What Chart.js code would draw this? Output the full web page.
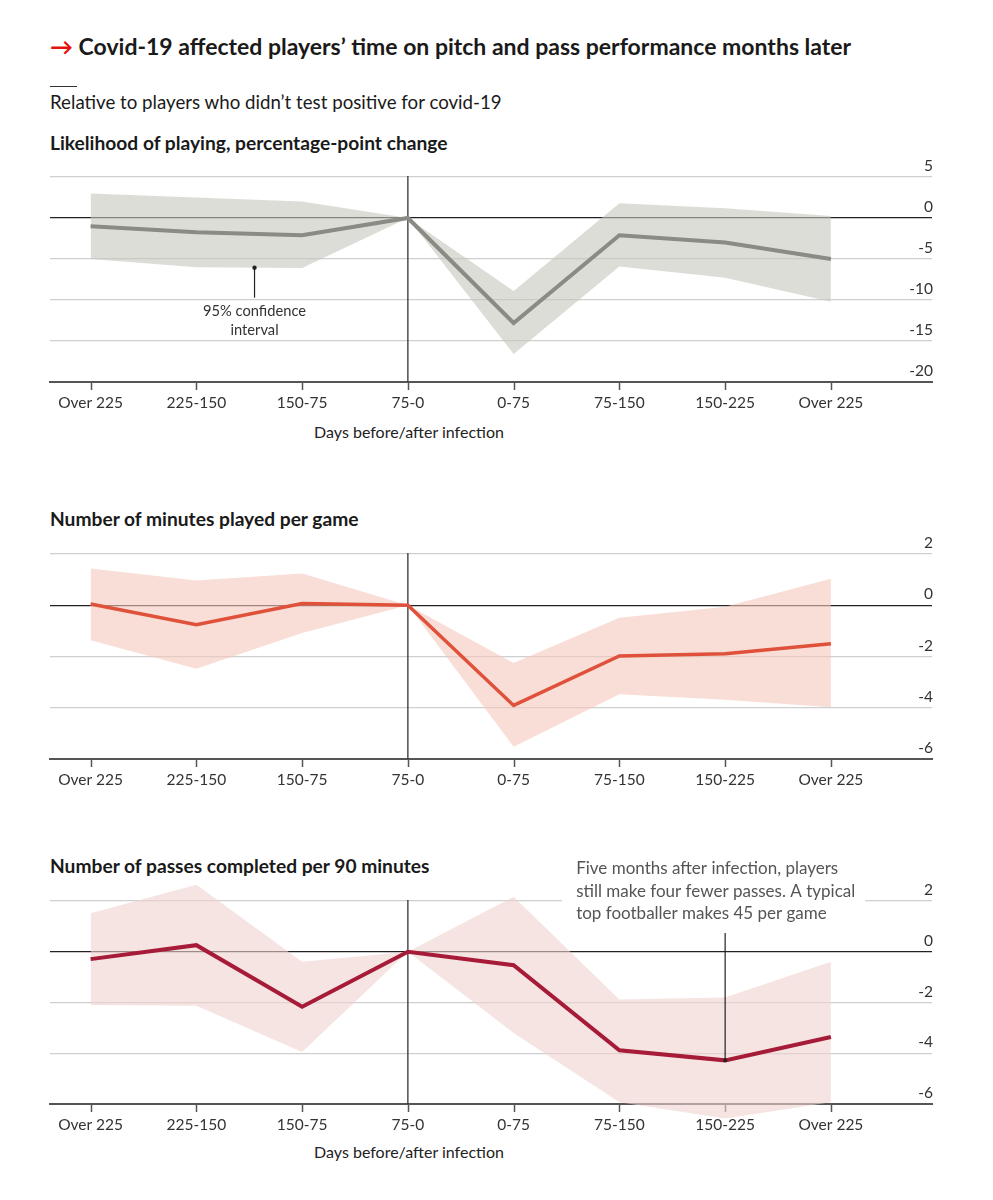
<!DOCTYPE html>
<html>
<head>
<meta charset="utf-8">
<script src="https://cdn.jsdelivr.net/npm/chart.js@4/dist/chart.umd.min.js"></script>
<style>
    body { margin: 0; background: #fff; font-family: Lato, "Noto Sans", sans-serif; color: #1a1a1a; }
    #page { position: relative; width: 993px; height: 1200px; overflow: hidden; }
    .txt { position: absolute; white-space: nowrap; }
    .title { left: 50px; top: 32px; font-size: 23px; font-weight: bold; }
    .title span { color: #e3120b; }
    .rule { position: absolute; left: 50px; top: 86px; width: 27px; height: 1px; background: #333; }
    .sub { left: 50px; top: 91px; font-size: 18.7px; }
    .head { left: 50px; font-size: 19.2px; font-weight: bold; }
    .xlab { font-size: 16px; color: #222; transform: translateX(-50%); }
    canvas { position: absolute; left: 0; }
</style>
</head>
<body>
<div id="page">
    <div class="txt title"><span>&#8594;</span> Covid-19 affected players&#8217; time on pitch and pass performance months later</div>
    <div class="rule"></div>
    <div class="txt sub">Relative to players who didn&#8217;t test positive for covid-19</div>
    <div class="txt head" style="top:131px">Likelihood of playing, percentage-point change</div>
    <div class="txt head" style="top:507px">Number of minutes played per game</div>
    <div class="txt head" style="top:854px">Number of passes completed per 90 minutes</div>
    <div class="txt xlab" style="left:409px;top:422px">Days before/after infection</div>
    <div class="txt xlab" style="left:409px;top:1142px">Days before/after infection</div>
    <canvas id="c1" style="top:150px"></canvas>
    <canvas id="c2" style="top:530px"></canvas>
    <canvas id="c3" style="top:850px"></canvas>
</div>
<script>
var categories = ['Over 225', '225-150', '150-75', '75-0', '0-75', '75-150', '150-225', 'Over 225'];

var playingLine = [-1.0, -1.75, -2.1, 0, -12.8, -2.1, -3.0, -5.0];
var playingUpper = [3.0, 2.5, 2.0, 0, -8.9, 1.8, 1.2, 0.25];
var playingLower = [-5.0, -6.0, -6.1, 0, -16.6, -5.9, -7.3, -10.2];
var playingTicks = [5, 0, -5, -10, -15, -20];

var minutesLine = [0.05, -0.76, 0.07, 0, -3.91, -1.98, -1.89, -1.5];
var minutesUpper = [1.43, 0.97, 1.24, 0, -2.25, -0.49, -0.06, 1.03];
var minutesLower = [-1.37, -2.48, -1.08, 0, -5.52, -3.47, -3.69, -3.98];
var minutesTicks = [2, 0, -2, -4, -6];

var passesLine = [-0.29, 0.26, -2.17, 0, -0.53, -3.88, -4.28, -3.36];
var passesUpper = [1.52, 2.64, -0.39, 0, 2.17, -1.88, -1.8, -0.39];
var passesLower = [-2.1, -2.13, -3.95, 0, -3.2, -5.93, -6.57, -5.93];
var passesTicks = [2, 0, -2, -4, -6];

var FONT = 'Lato, "Noto Sans", sans-serif';

function points(values) {
    return values.map(function (v, i) { return { x: i, y: v }; });
}

// vertical line at 75-0, tick marks under the axis, and room for the bands to spill over the plot edges
var axisPlugin = {
    id: 'axisMarks',
    beforeDatasetsDraw: function (chart) {
        var ctx = chart.ctx;
        var xs = chart.scales.x;
        var area = chart.chartArea;
        ctx.save();
        ctx.strokeStyle = '#333';
        ctx.lineWidth = 1.3;
        ctx.beginPath();
        ctx.moveTo(xs.getPixelForValue(3), area.top - 1);
        ctx.lineTo(xs.getPixelForValue(3), area.bottom);
        ctx.stroke();
        ctx.strokeStyle = '#555';
        ctx.lineWidth = 1.5;
        categories.forEach(function (c, i) {
            var x = Math.round(xs.getPixelForValue(i)) + 0.5;
            ctx.beginPath();
            ctx.moveTo(x, area.bottom);
            ctx.lineTo(x, area.bottom + 8);
            ctx.stroke();
        });
        ctx.restore();
        chart._savedArea = area;
        chart.chartArea = Object.assign({}, area, { top: area.top - 40, bottom: area.bottom + 40, height: area.height + 80 });
    },
    afterDatasetsDraw: function (chart) {
        if (chart._savedArea) chart.chartArea = chart._savedArea;
    }
};

function makeChart(id, height, padTop, line, upper, lower, ticks, lineColor, bandColor, lineWidth, extra) {
    var el = document.getElementById(id);
    el.width = 993;
    el.height = height;
    el.style.width = '993px';
    el.style.height = height + 'px';
    var ymin = ticks[ticks.length - 1], ymax = ticks[0];
    return new Chart(el, {
        type: 'line',
        data: {
            datasets: [
                { data: points(upper), borderWidth: 0, pointRadius: 0, backgroundColor: bandColor, fill: '+1', clip: false, order: 3 },
                { data: points(lower), borderWidth: 0, pointRadius: 0, backgroundColor: bandColor, fill: false, clip: false, order: 2 },
                { data: points(line), borderColor: lineColor, borderWidth: lineWidth, pointRadius: 0, fill: false, clip: false, order: 1, tension: 0 }
            ]
        },
        options: {
            responsive: false,
            animation: false,
            devicePixelRatio: 1,
            layout: { padding: { left: 50, right: 59, top: padTop, bottom: 0 } },
            plugins: { legend: { display: false }, tooltip: { enabled: false } },
            scales: {
                x: {
                    type: 'linear',
                    min: -0.384,
                    max: 7.956,
                    afterBuildTicks: function (scale) {
                        scale.ticks = categories.map(function (c, i) { return { value: i }; });
                    },
                    afterFit: function (scale) { scale.height = 40; },
                    grid: { display: false, drawTicks: false },
                    border: { display: true, color: '#555', width: 2 },
                    ticks: {
                        autoSkip: false,
                        maxRotation: 0,
                        padding: 12,
                        color: '#333',
                        font: { family: FONT, size: 15.5 },
                        callback: function (v) { return categories[v]; }
                    }
                },
                y: {
                    position: 'right',
                    min: ymin,
                    max: ymax,
                    afterBuildTicks: function (scale) {
                        scale.ticks = ticks.map(function (t) { return { value: t }; });
                    },
                    grid: {
                        drawTicks: false,
                        color: function (c) { return c.tick.value === 0 ? '#222' : (c.tick.value === ymin ? '#555' : '#cfcfcf'); },
                        lineWidth: function (c) { return c.tick.value === 0 ? 1.2 : (c.tick.value === ymin ? 2 : 1.3); }
                    },
                    border: { display: false },
                    ticks: {
                        mirror: true,
                        padding: 1,
                        labelOffset: -11,
                        color: '#333',
                        font: { family: FONT, size: 15.5 },
                        callback: function (v) { return String(v); }
                    }
                }
            }
        },
        plugins: [axisPlugin].concat(extra ? [extra] : [])
    });
}

var confidenceNote = {
    id: 'confidenceNote',
    afterDatasetsDraw: function (chart) {
        var ctx = chart.ctx;
        var pos = 1.55;
        var yv = playingLower[1] + (playingLower[2] - playingLower[1]) * (pos - 1);
        var x = chart.scales.x.getPixelForValue(pos);
        var y = chart.scales.y.getPixelForValue(yv);
        ctx.save();
        ctx.strokeStyle = '#222';
        ctx.fillStyle = '#222';
        ctx.lineWidth = 1.2;
        ctx.beginPath();
        ctx.arc(x, y, 2.2, 0, Math.PI * 2);
        ctx.fill();
        ctx.beginPath();
        ctx.moveTo(x, y);
        ctx.lineTo(x, y + 30);
        ctx.stroke();
        ctx.fillStyle = '#333';
        ctx.font = '14.7px ' + FONT;
        ctx.textAlign = 'center';
        ctx.textBaseline = 'middle';
        ctx.fillText('95% confidence', x, y + 44);
        ctx.fillText('interval', x, y + 63);
        ctx.restore();
    }
};

var passesNote = {
    id: 'passesNote',
    afterDatasetsDraw: function (chart) {
        var ctx = chart.ctx;
        var ys = chart.scales.y;
        var x = chart.scales.x.getPixelForValue(6);
        var y = ys.getPixelForValue(passesLine[6]);
        var top = ys.getPixelForValue(passesTicks[0]);
        ctx.save();
        ctx.fillStyle = '#fff';
        ctx.fillRect(x - 163, top - 45, 303, 52);
        ctx.strokeStyle = '#222';
        ctx.lineWidth = 1.2;
        ctx.beginPath();
        ctx.moveTo(x, top + 32);
        ctx.lineTo(x, y);
        ctx.stroke();
        ctx.fillStyle = '#222';
        ctx.beginPath();
        ctx.arc(x, y, 2, 0, Math.PI * 2);
        ctx.fill();
        ctx.fillStyle = '#555';
        ctx.font = '17px ' + FONT;
        ctx.textAlign = 'left';
        ctx.textBaseline = 'middle';
        ctx.fillText('Five months after infection, players', x - 149, top - 32);
        ctx.fillText('still make four fewer passes. A typical', x - 149, top - 9);
        ctx.fillText('top footballer makes 45 per game', x - 149, top + 13);
        ctx.restore();
    }
};

makeChart('c1', 272, 27, playingLine, playingUpper, playingLower, playingTicks, '#8b8b85', 'rgba(198,198,190,0.6)', 4, confidenceNote);
makeChart('c2', 269, 24, minutesLine, minutesUpper, minutesLower, minutesTicks, '#df513a', 'rgba(243,200,187,0.6)', 3.5, null);
makeChart('c3', 294, 51, passesLine, passesUpper, passesLower, passesTicks, '#a61b38', 'rgba(240,210,208,0.6)', 4, passesNote);
</script>
</body>
</html>
